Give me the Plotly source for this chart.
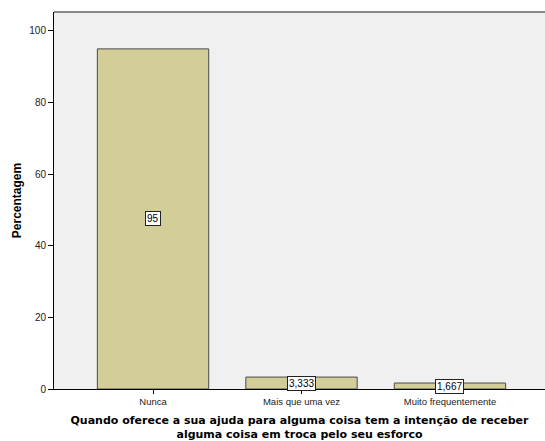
import plotly.graph_objects as go

categories = ["Nunca", "Mais que uma vez", "Muito frequentemente"]
values = [95, 3.333, 1.667]
value_labels = ["95", "3,333", "1,667"]
y_ticks = [0, 20, 40, 60, 80, 100]

fig = go.Figure()
fig.add_trace(go.Bar(
    x=categories, y=values, width=0.75,
    marker=dict(color="#d3ce97", line=dict(color="#4a4a4a", width=1)),
    hoverinfo="skip",
))

for c, v, t in zip(categories, values, value_labels):
    fig.add_annotation(x=c, y=v / 2, text=t, showarrow=False,
                       font=dict(family="Liberation Sans, Arial", size=10, color="#000"),
                       bgcolor="white", bordercolor="#222", borderwidth=1, borderpad=1)

fig.add_shape(type="line", xref="paper", yref="paper", x0=0, x1=1, y0=1, y1=1,
              line=dict(color="#888", width=2))

fig.update_layout(
    width=545, height=441,
    margin=dict(l=54, r=0, t=12, b=52, autoexpand=False),
    paper_bgcolor="white", plot_bgcolor="#f0f0f0",
    showlegend=False,
    font=dict(family="Liberation Sans, Arial", size=10, color="#000"),
    xaxis=dict(
        range=[-0.667, 2.64], showgrid=False, zeroline=False, automargin=False,
        showline=True, linecolor="#000", linewidth=1,
        ticks="outside", ticklen=4, tickcolor="#000",
        tickfont=dict(size=9.5, color="#222"),
        title=dict(text="<b>Quando oferece a sua ajuda para alguma coisa tem a intenção de receber<br>alguma coisa em troca pelo seu esforco</b>",
                   font=dict(size=11, family="DejaVu Sans", color="#000"), standoff=9),
    ),
    yaxis=dict(
        range=[0, 105.3], tickvals=y_ticks, showgrid=False, zeroline=False, automargin=False,
        showline=True, linecolor="#000", linewidth=1,
        ticks="outside", ticklen=5, tickcolor="#000",
        tickfont=dict(size=10, color="#222"),
        title=dict(text="<b>Percentagem</b>", font=dict(size=12, family="Liberation Sans, Arial", color="#000"), standoff=5),
    ),
)

fig.write_html("out.html", config={"displayModeBar": False},
               post_script="document.body.style.margin='0';")
